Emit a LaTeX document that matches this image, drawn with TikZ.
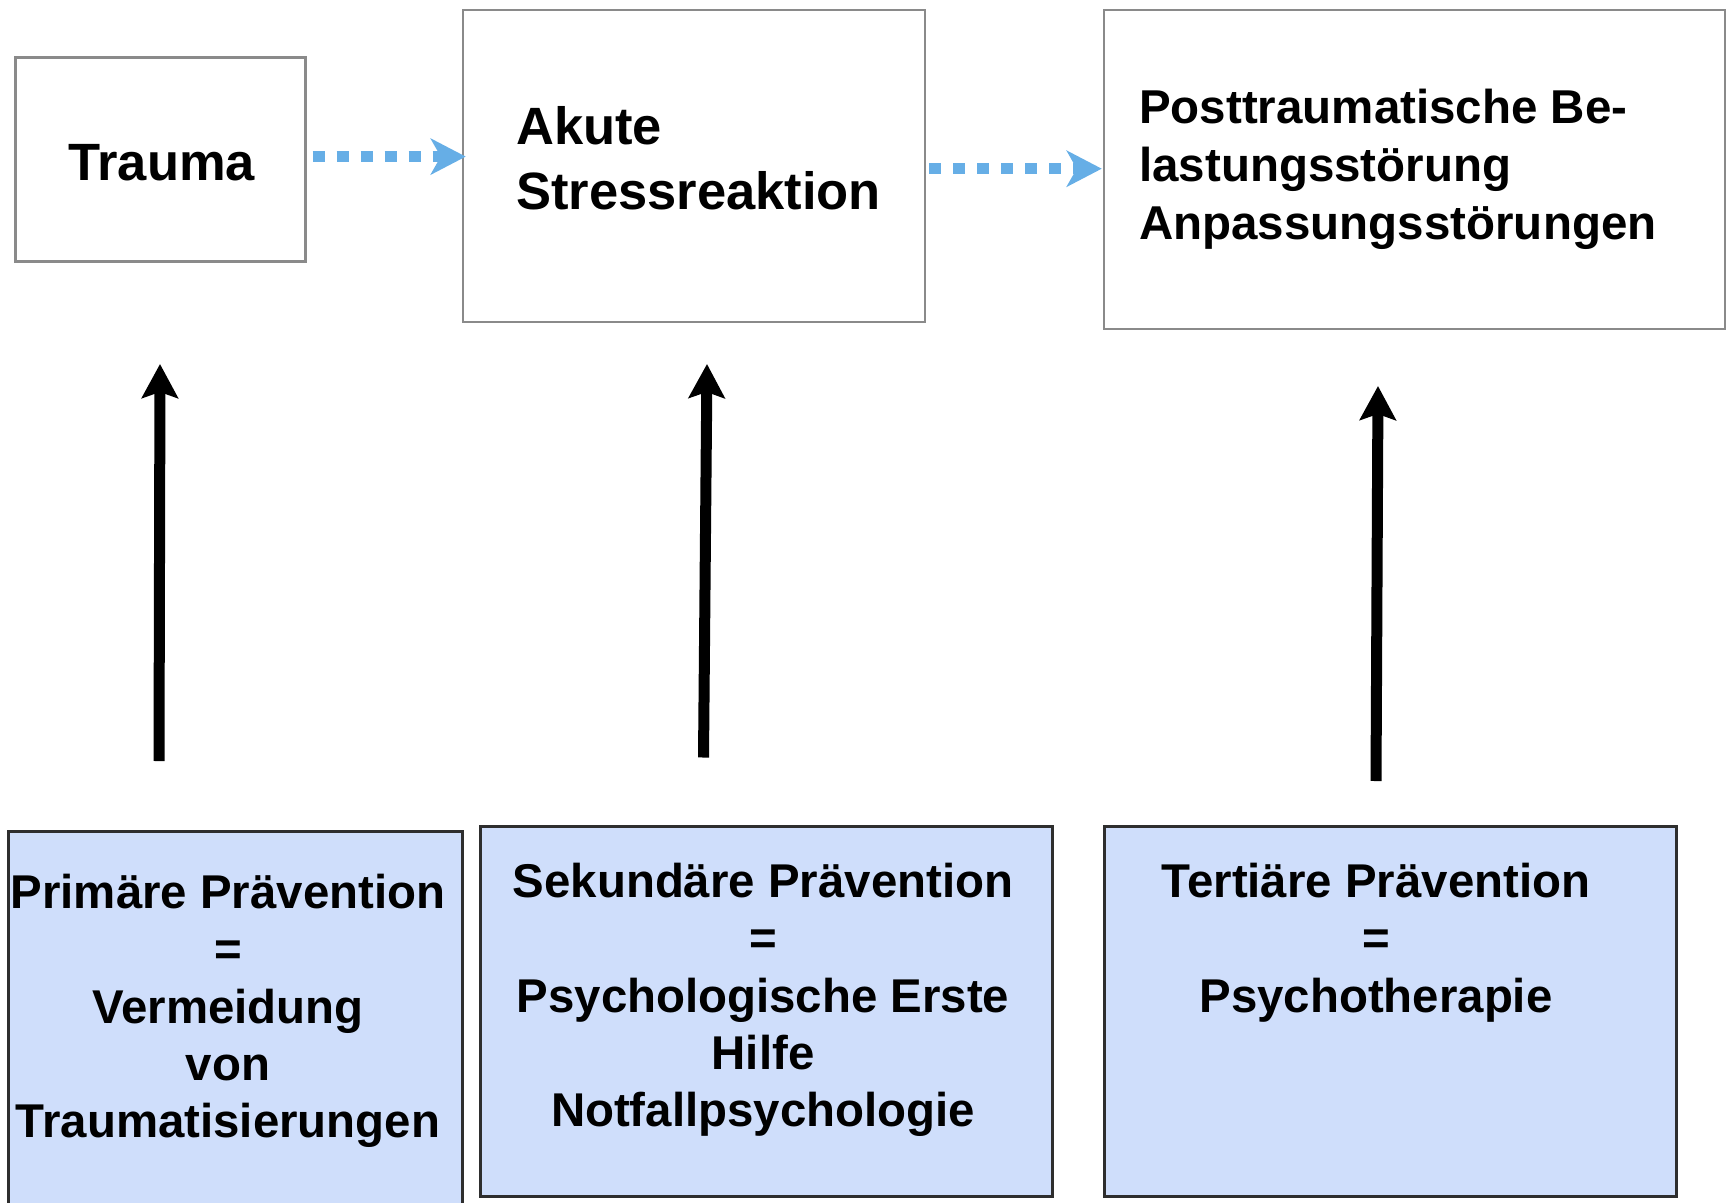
\documentclass[tikz,border=0pt]{standalone}
\usepackage{fontspec}
\setmainfont{Liberation Sans}
\usetikzlibrary{arrows.meta}
\definecolor{dotblue}{HTML}{66AEE6}
\definecolor{boxblue}{HTML}{CFDEFB}
\definecolor{topgray}{HTML}{8A8A8A}
\definecolor{botgray}{HTML}{2E2E2E}
\tikzset{
  topbox/.style={draw=topgray, line width=2.5pt, fill=white, inner sep=0pt},
  botbox/.style={draw=botgray, line width=3pt, fill=boxblue, inner sep=0pt},
  dotarrow/.style={draw=dotblue, line width=11pt, dash pattern=on 12pt off 12pt,
    -{Stealth[length=35pt, width=36pt, inset=10pt, fill=dotblue]}},
  uparrow/.style={draw=black, line width=11pt,
    -{Stealth[length=34pt, width=36pt, inset=6pt]}},
  bigtxt/.style={font=\fontsize{52.5}{65}\selectfont\bfseries, inner sep=0pt, align=left},
  midtxt/.style={font=\fontsize{47.5}{58}\selectfont\bfseries, inner sep=0pt, align=left},
  bottxt/.style={font=\fontsize{47.4}{57.3}\selectfont\bfseries, inner sep=0pt, align=center}
}
\begin{document}
\begin{tikzpicture}[x=1pt, y=-1pt]
\useasboundingbox (0,0) rectangle (1729,1202);
% top boxes
\node[topbox, minimum width=290pt, minimum height=204pt] (trauma) at (160.4,159.3) {};
\node[topbox, minimum width=462pt, minimum height=312pt] (akute) at (694,166) {};
\node[topbox, minimum width=621pt, minimum height=319pt] (ptbs) at (1414.5,169.5) {};
% bottom boxes
\node[botbox, minimum width=454pt, minimum height=400pt] (prim) at (235,1031) {};
\node[botbox, minimum width=572pt, minimum height=370pt] (sek) at (766,1011) {};
\node[botbox, minimum width=572pt, minimum height=370pt] (tert) at (1390,1011) {};
% texts (base anchor = baseline of last line)
\node[bigtxt, anchor=base west] (ttrauma) at (68,180) {Trauma};
\node[bigtxt, anchor=base west] (takute) at (516,209.5) {Akute\\Stressreaktion};
\node[midtxt, anchor=base west] (tptbs) at (1139,239) {Posttraumatische Be-\\lastungsstörung\\Anpassungsstörungen};
\node[bottxt, anchor=base] (tprim) at (228,1137.8) {Primäre Prävention\\=\\Vermeidung\\von\\Traumatisierungen};
\node[bottxt, anchor=base] (tsek) at (763,1126.8) {Sekundäre Prävention\\=\\Psychologische Erste\\Hilfe\\Notfallpsychologie};
\node[bottxt, anchor=base] (ttert) at (1376,1012.2) {Tertiäre Prävention\\=\\Psychotherapie};
% dotted arrows
\draw[dotarrow] ([xshift=6pt]trauma.east |- {0,156.6}) -- ([xshift=4pt]akute.west |- {0,156.6});
\draw[dotarrow] ([xshift=3pt]akute.east |- {0,168.7}) -- ([xshift=-1pt]ptbs.west |- {0,168.7});
% vertical arrows
\coordinate (a1s) at (159,761);
\coordinate (a1e) at (160,364);
\coordinate (a2s) at (703.5,757.5);
\coordinate (a2e) at (707,364);
\coordinate (a3s) at (1376,781);
\coordinate (a3e) at (1378,386);
\draw[uparrow] (a1s) -- (a1e);
\draw[uparrow] (a2s) -- (a2e);
\draw[uparrow] (a3s) -- (a3e);
\end{tikzpicture}
\end{document}
